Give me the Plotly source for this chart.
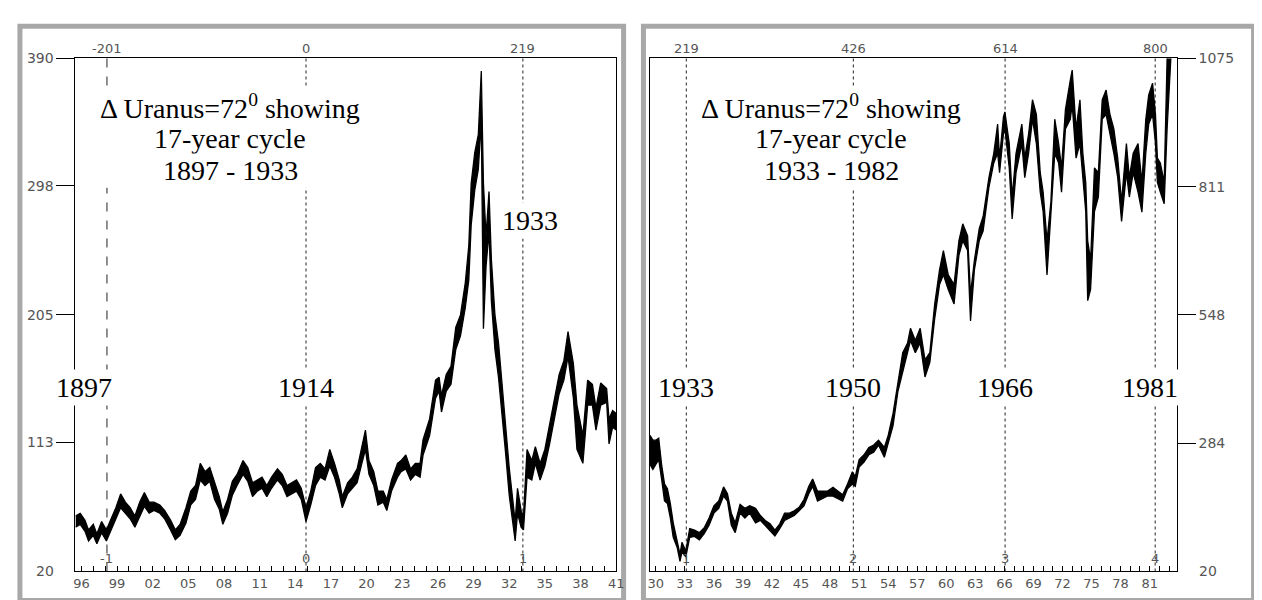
import plotly.graph_objects as go

W, H = 1262, 600

# ---------------- data: left panel (1896-1941) ----------------
left_year = [1895.5, 1895.9, 1896.3, 1896.6, 1897.0, 1897.3, 1897.7, 1898.1, 1898.5, 1898.9,
             1899.3, 1899.7, 1900.1, 1900.5, 1900.9, 1901.3, 1901.7, 1902.1, 1902.6, 1903.0,
             1903.5, 1903.9, 1904.3, 1904.8, 1905.2, 1905.6, 1906.0, 1906.4, 1906.8, 1907.2,
             1907.6, 1907.9, 1908.3, 1908.7, 1909.1, 1909.6, 1910.0, 1910.4, 1910.8, 1911.2,
             1911.6, 1912.0, 1912.5, 1912.9, 1913.3, 1913.7, 1914.1, 1914.5, 1914.9, 1915.3,
             1915.7, 1916.1, 1916.5, 1916.9, 1917.3, 1917.7, 1917.95, 1918.4, 1918.8, 1919.2,
             1919.6, 1919.9, 1920.2, 1920.6, 1920.95, 1921.4, 1921.7, 1922.1, 1922.6, 1922.9,
             1923.3, 1923.7, 1924.1, 1924.5, 1924.75, 1925.3, 1925.8, 1926.1, 1926.3, 1926.7,
             1927.1, 1927.5, 1927.9, 1928.3, 1928.6, 1928.8, 1929.1, 1929.4, 1929.65, 1929.83,
             1930.05, 1930.3, 1930.5, 1930.8, 1931.1, 1931.4, 1931.7, 1932.0, 1932.5, 1932.7,
             1933.0, 1933.2, 1933.5, 1933.9, 1934.2, 1934.6, 1935.0, 1935.4, 1935.8, 1936.2,
             1936.6, 1936.95, 1937.4, 1937.7, 1938.2, 1938.6, 1939.0, 1939.3, 1939.7, 1940.2,
             1940.4, 1940.7, 1941.0]
left_low = [52, 54, 49, 42, 46, 40, 48, 42, 50, 58,
            66, 62, 58, 52, 60, 67, 62, 64, 62, 58,
            50, 43, 46, 55, 68, 72, 86, 82, 85, 72,
            65, 54, 62, 75, 82, 90, 85, 74, 78, 80,
            74, 80, 86, 82, 74, 76, 78, 72, 56, 68,
            82, 88, 86, 96, 88, 76, 66, 76, 80, 84,
            98, 108, 90, 82, 68, 70, 64, 78, 88, 92,
            94, 86, 90, 88, 104, 118, 145, 150, 135, 150,
            155, 180, 190, 210, 230, 270, 295, 310, 345, 195,
            240, 265, 215, 180, 160, 135, 105, 75, 42, 62,
            52, 50, 88, 86, 98, 86, 96, 112, 130, 148,
            158, 175, 145, 108, 98, 140, 140, 122, 140, 142,
            112, 124, 122]
left_high = [60, 62, 57, 50, 54, 47, 56, 50, 58, 66,
             76, 70, 66, 60, 70, 77, 70, 70, 68, 64,
             57, 50, 54, 66, 78, 82, 98, 92, 95, 84,
             74, 63, 72, 85, 90, 100, 95, 84, 86, 88,
             82, 88, 94, 90, 82, 84, 86, 80, 66, 78,
             95, 98, 94, 108, 98, 86, 74, 84, 88, 94,
             110, 122, 100, 92, 78, 78, 72, 86, 98, 100,
             104, 94, 98, 98, 115, 130, 158, 160, 147, 162,
             168, 196, 205, 228, 255, 300, 322, 335, 381, 300,
             262, 294, 245, 205, 185, 155, 125, 95, 56, 80,
             64, 60, 108, 100, 110, 98, 108, 126, 145, 162,
             172, 193, 170, 140, 118, 158, 155, 138, 156, 152,
             130, 136, 134]

left_tick_years = [1896, 1899, 1902, 1905, 1908, 1911, 1914, 1917, 1920, 1923, 1926,
                   1929, 1932, 1935, 1938, 1941]
left_tick_text = ["96", "99", "02", "05", "08", "11", "14", "17", "20", "23", "26",
                  "29", "32", "35", "38", "41"]
left_price_ticks = [113, 205, 298, 390]

left_event_year = [1898.15, 1914.9, 1933.15]
left_event_month = ["-201", "0", "219"]
left_event_cycle = ["-1", "0", "1"]
left_event_name = ["1897", "1914", "1933"]

# ---------------- data: right panel (1930-1983) ----------------
right_year = [1929.4, 1929.7, 1930.0, 1930.3, 1930.6, 1930.9, 1931.2, 1931.5, 1931.8, 1932.2,
              1932.5, 1932.7, 1933.1, 1933.5, 1934.0, 1934.5, 1935.0, 1935.5, 1936.0, 1936.5,
              1937.0, 1937.4, 1937.8, 1938.2, 1938.7, 1939.2, 1939.7, 1940.3, 1940.8, 1941.3,
              1941.8, 1942.3, 1942.8, 1943.3, 1943.8, 1944.3, 1944.8, 1945.3, 1945.8, 1946.2,
              1946.7, 1947.2, 1947.7, 1948.3, 1948.8, 1949.3, 1949.8, 1950.3, 1950.6, 1951.0,
              1951.5, 1952.0, 1952.5, 1953.0, 1953.6, 1954.0, 1954.5, 1955.0, 1955.5, 1956.0,
              1956.3, 1956.8, 1957.3, 1957.8, 1958.3, 1958.8, 1959.3, 1959.7, 1960.2, 1960.8,
              1961.3, 1961.7, 1962.2, 1962.5, 1962.9, 1963.4, 1963.8, 1964.4, 1964.9, 1965.3,
              1965.5, 1965.9, 1966.05, 1966.5, 1966.8, 1967.2, 1967.8, 1968.1, 1968.5, 1968.9,
              1969.3, 1969.7, 1970.0, 1970.4, 1970.8, 1971.2, 1971.6, 1971.9, 1972.3, 1972.8,
              1973.0, 1973.4, 1973.8, 1974.1, 1974.4, 1974.6, 1974.9, 1975.3, 1975.7, 1976.1,
              1976.5, 1976.9, 1977.3, 1977.7, 1978.1, 1978.6, 1978.9, 1979.3, 1979.8, 1980.2,
              1980.6, 1980.9, 1981.3, 1981.6, 1981.8, 1982.1, 1982.5, 1982.8, 1983.2, 1983.8]
right_low = [240, 230, 240, 250, 210, 165, 160, 130, 90, 70,
             41, 60, 50, 90, 92, 85, 98, 115, 140, 150,
             175, 165, 115, 100, 140, 130, 140, 120, 125, 115,
             105, 93, 108, 125, 130, 135, 145, 155, 180, 195,
             165, 170, 175, 175, 170, 165, 190, 200, 195, 235,
             245, 260, 265, 280, 255, 285, 320, 390, 430, 470,
             495, 470, 490, 420, 450, 540, 610, 630, 600, 570,
             670, 700, 680, 535, 640, 700, 720, 810, 860, 880,
             840, 920, 930, 850, 745, 840, 900, 830, 880, 950,
             900, 800, 760, 630, 750, 880, 860, 800, 930, 950,
             980, 870, 900, 820, 760, 577, 600, 760, 790, 950,
             960, 920, 880, 830, 740, 840, 790, 840, 800, 759,
             880, 940, 960, 900, 820, 800, 776, 930, 1080, 1100]
right_high = [300, 290, 290, 294, 240, 200, 190, 160, 120, 85,
              55, 80, 62, 108, 105, 100, 110, 130, 155, 165,
              194, 180, 140, 120, 158, 150, 155, 150, 135, 125,
              118, 105, 118, 140, 140, 145, 152, 168, 195, 210,
              185, 185, 185, 193, 185, 178, 200, 225, 215, 250,
              260, 275, 280, 290, 275, 300, 345, 410, 470, 490,
              520, 495, 520, 455, 470, 570, 640, 680, 630, 610,
              700, 735, 710, 590, 660, 725, 750, 830, 880, 940,
              870, 955, 965, 900, 790, 880, 940, 870, 920, 990,
              960, 840, 800, 700, 780, 950, 900, 850, 970, 1030,
              1051, 930, 990, 880, 820, 700, 660, 850, 840, 990,
              1010, 960, 930, 870, 780, 900, 830, 880, 900, 820,
              950, 1000, 1024, 960, 870, 860, 820, 1075, 1150, 1150]

right_tick_years = [1930, 1933, 1936, 1939, 1942, 1945, 1948, 1951, 1954, 1957,
                    1960, 1963, 1966, 1969, 1972, 1975, 1978, 1981]
right_tick_text = ["30", "33", "36", "39", "42", "45", "48", "51", "54", "57",
                   "60", "63", "66", "69", "72", "75", "78", "81"]
right_price_ticks = [284, 548, 811, 1075]

right_event_year = [1933.15, 1950.4, 1966.07, 1981.57]
right_event_month = ["219", "426", "614", "800"]
right_event_cycle = ["1", "2", "3", "4"]
right_event_name = ["1933", "1950", "1966", "1981"]

title_left = ["\u0394 Uranus=72<sup>0</sup> showing", "17-year cycle", "1897 - 1933"]
title_right = ["\u0394 Uranus=72<sup>0</sup> showing", "17-year cycle", "1933 - 1982"]


def px(x):
    return x / W


def py(y):
    return 1 - y / H


SERIF = "Liberation Serif"
SANS = "DejaVu Sans"
GREY = "#555555"

fig = go.Figure()

# price bands (monthly high-low range)
for xs, lo, hi, xa, ya in [(left_year, left_low, left_high, "x", "y"),
                           (right_year, right_low, right_high, "x2", "y2")]:
    fig.add_trace(go.Scatter(x=xs, y=lo, mode="lines", line=dict(color="black", width=1.3),
                             xaxis=xa, yaxis=ya, showlegend=False, hoverinfo="skip"))
    fig.add_trace(go.Scatter(x=xs, y=hi, mode="lines", line=dict(color="black", width=1.3),
                             fill="tonexty", fillcolor="black",
                             xaxis=xa, yaxis=ya, showlegend=False, hoverinfo="skip"))

ydom = [py(563), py(43)]

axis_common = dict(showgrid=False, zeroline=False, showline=True, mirror=True,
                   linecolor="black", linewidth=1, tickcolor="black")

fig.update_layout(
    width=W, height=H, autosize=False,
    margin=dict(l=0, r=0, t=0, b=0),
    paper_bgcolor="white", plot_bgcolor="white",
    showlegend=False,
    xaxis=dict(domain=[px(66), px(611)], range=[1895.5, 1941.0], anchor="y",
               tickmode="array", tickvals=left_tick_years, ticktext=left_tick_text,
               ticks="inside", ticklen=5,
               minor=dict(dtick=1, ticks="inside", ticklen=5, tickcolor="black"),
               tickfont=dict(family=SANS, size=13, color=GREY), **axis_common),
    yaxis=dict(domain=ydom, range=[20, 390], anchor="x",
               tickmode="array", tickvals=left_price_ticks,
               ticks="outside", ticklen=18,
               tickfont=dict(family=SANS, size=14, color=GREY), **axis_common),
    xaxis2=dict(domain=[px(645), px(1176)], range=[1929.39, 1983.79], anchor="y2",
                tickmode="array", tickvals=right_tick_years, ticktext=right_tick_text,
                ticks="inside", ticklen=5,
                minor=dict(dtick=1, ticks="inside", ticklen=5, tickcolor="black"),
                tickfont=dict(family=SANS, size=13, color=GREY), **axis_common),
    yaxis2=dict(domain=ydom, range=[20, 1075], anchor="x2", side="right",
                tickmode="array", tickvals=right_price_ticks,
                ticks="outside", ticklen=18,
                tickfont=dict(family=SANS, size=14, color=GREY), **axis_common),
)

shapes = []
# outer grey frames
for x0, x1 in [(10, 618.5), (638.5, 1253.5)]:
    shapes.append(dict(type="rect", xref="paper", yref="paper",
                       x0=px(x0), x1=px(x1), y0=py(592.5), y1=py(10.5),
                       line=dict(color="#a8a8a8", width=5), layer="below"))

annotations = []
# "20" bottom labels
annotations.append(dict(x=px(46), y=py(562), xref="paper", yref="paper", text="20",
                        showarrow=False, xanchor="right", yanchor="middle",
                        font=dict(family=SANS, size=14, color=GREY)))
annotations.append(dict(x=px(1196), y=py(563), xref="paper", yref="paper", text="20",
                        showarrow=False, xanchor="left", yanchor="middle",
                        font=dict(family=SANS, size=14, color=GREY)))

panels = [
    ("x", left_event_year, left_event_month, left_event_cycle, left_event_name,
     [-23, 0, 7], [377, 377, 207], ["dash", "dot", "dot"], title_left, 222),
    ("x2", right_event_year, right_event_month, right_event_cycle, right_event_name,
     [0, 0, 0, -5], [377, 377, 377, 377], ["dot", "dot", "dot", "dot"], title_right, 828),
]

for xa, years, months, cycles, names, shifts, ys, dashes, title, tx in panels:
    for yr, mo, cy, nm, sh, yy, ds in zip(years, months, cycles, names, shifts, ys, dashes):
        shapes.append(dict(type="line", xref=xa, yref=xa.replace("x", "y") + " domain",
                           x0=yr, x1=yr, y0=0, y1=1,
                           line=dict(color="#222222", width=1, dash=ds), layer="below"))
        annotations.append(dict(x=yr, y=py(33), xref=xa, yref="paper", text=mo,
                                xanchor="center", yanchor="middle",
                                showarrow=False, font=dict(family=SANS, size=13, color=GREY)))
        annotations.append(dict(x=yr, y=py(550), xref=xa, yref="paper", text=cy,
                                xanchor="center", yanchor="middle",
                                showarrow=False, font=dict(family=SANS, size=13, color=GREY)))
        annotations.append(dict(x=yr, y=py(yy), xref=xa, yref="paper", text=nm, xshift=sh,
                                xanchor="center", yanchor="middle",
                                showarrow=False, bgcolor="white", borderpad=2,
                                font=dict(family=SERIF, size=28, color="black")))
    # white block behind the title text (interrupts the vertical cycle lines)
    shapes.append(dict(type="rect", xref="paper", yref="paper",
                       x0=px(tx - 136), x1=px(tx + 136), y0=py(174), y1=py(72),
                       fillcolor="white", line=dict(width=0), layer="above"))
    for line_txt, ly in zip(title, [92, 124, 157]):
        annotations.append(dict(x=px(tx), y=py(ly), xref="paper", yref="paper", text=line_txt,
                                xanchor="center", yanchor="middle",
                                showarrow=False, bgcolor="white", borderpad=1,
                                font=dict(family=SERIF, size=28, color="black")))

fig.update_layout(shapes=shapes, annotations=annotations)

fig.write_html("out.html")
